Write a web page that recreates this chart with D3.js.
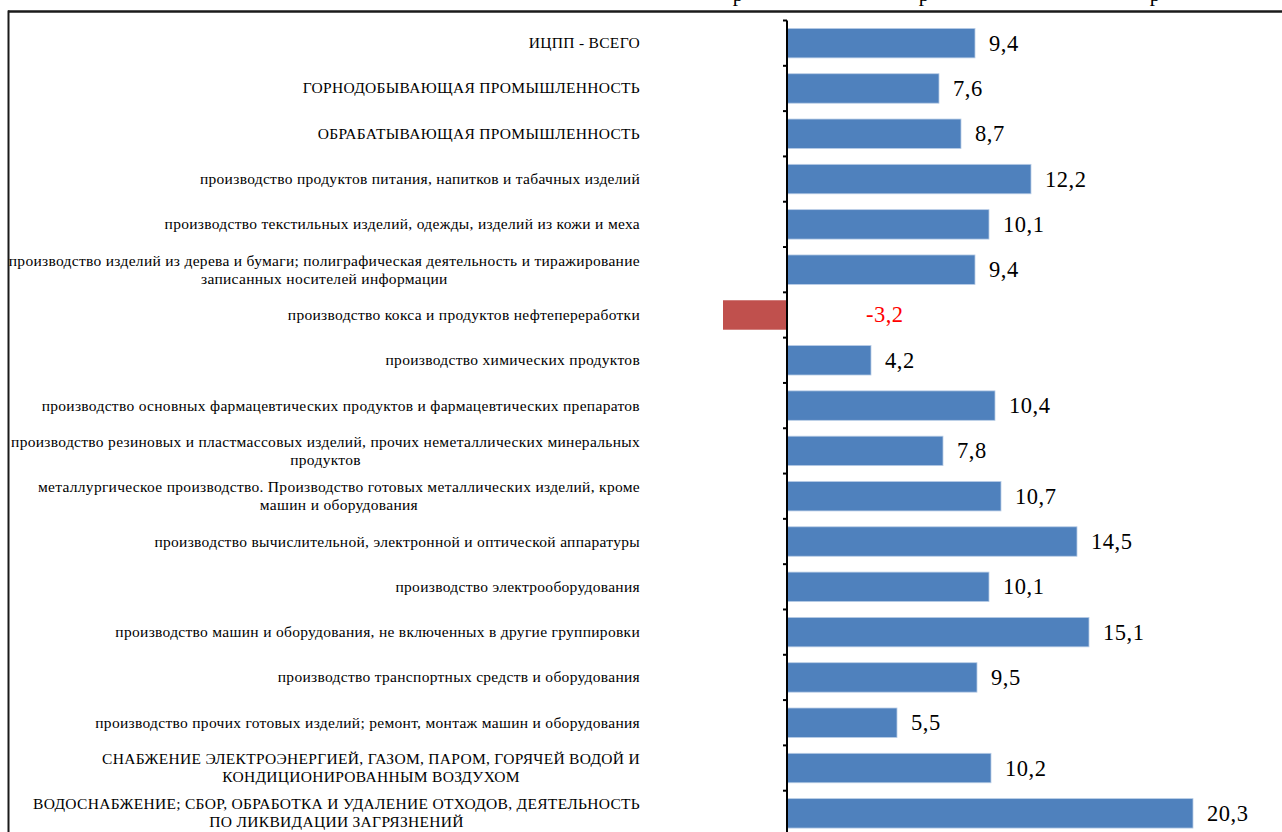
<!DOCTYPE html>
<html><head><meta charset="utf-8">
<script src="https://cdn.jsdelivr.net/npm/d3@7"></script>
<style>html,body{margin:0;padding:0;background:#fff;overflow:hidden}</style>
</head><body>
<svg id="c" width="1282" height="832"></svg>
<script>
const categories = [
  ["ИЦПП - ВСЕГО"],
  ["ГОРНОДОБЫВАЮЩАЯ ПРОМЫШЛЕННОСТЬ"],
  ["ОБРАБАТЫВАЮЩАЯ ПРОМЫШЛЕННОСТЬ"],
  ["производство продуктов питания, напитков и табачных изделий"],
  ["производство текстильных изделий, одежды, изделий из кожи и меха"],
  ["производство изделий из дерева и бумаги; полиграфическая деятельность и тиражирование", "записанных носителей информации"],
  ["производство кокса и продуктов нефтепереработки"],
  ["производство химических продуктов"],
  ["производство основных фармацевтических продуктов и фармацевтических препаратов"],
  ["производство резиновых и пластмассовых изделий, прочих неметаллических минеральных", "продуктов"],
  ["металлургическое производство. Производство готовых металлических изделий, кроме", "машин и оборудования"],
  ["производство вычислительной, электронной и оптической аппаратуры"],
  ["производство электрооборудования"],
  ["производство машин и оборудования, не включенных в другие группировки"],
  ["производство транспортных средств и оборудования"],
  ["производство прочих готовых изделий; ремонт, монтаж машин и оборудования"],
  ["СНАБЖЕНИЕ ЭЛЕКТРОЭНЕРГИЕЙ, ГАЗОМ, ПАРОМ, ГОРЯЧЕЙ ВОДОЙ И", "КОНДИЦИОНИРОВАННЫМ ВОЗДУХОМ"],
  ["ВОДОСНАБЖЕНИЕ; СБОР, ОБРАБОТКА И УДАЛЕНИЕ ОТХОДОВ, ДЕЯТЕЛЬНОСТЬ", "ПО ЛИКВИДАЦИИ ЗАГРЯЗНЕНИЙ"]
];
const values = [9.4, 7.6, 8.7, 12.2, 10.1, 9.4, -3.2, 4.2, 10.4, 7.8, 10.7, 14.5, 10.1, 15.1, 9.5, 5.5, 10.2, 20.3];
const titleFragments = ["р", "р", "р"];

const FONT = "Liberation Serif";
const svg = d3.select("#c");
const idx = d3.range(values.length);

const x = d3.scaleLinear().domain([-4, 24]).range([707, 1267]);
const y = d3.scaleBand().domain(idx).range([20.5, 836]).paddingInner(0.35).paddingOuter(0.175);

// cut-off heading fragments
const fragX = [738, 924, 1155];
svg.selectAll("text.frag").data(titleFragments).join("text")
  .attr("x", (d, i) => fragX[i]).attr("y", 1)
  .attr("font-family", FONT).attr("font-size", 21).attr("text-anchor", "middle")
  .text(d => d);

// frame
svg.append("line").attr("x1", 8).attr("x2", 1282).attr("y1", 11.5).attr("y2", 11.5)
  .attr("stroke", "#1a1a1a").attr("stroke-width", 2.5);
svg.append("line").attr("x1", 8.5).attr("x2", 8.5).attr("y1", 10.5).attr("y2", 832)
  .attr("stroke", "#1a1a1a").attr("stroke-width", 2);

// bars
svg.selectAll("rect.bar").data(idx).join("rect")
  .attr("x", i => x(Math.min(0, values[i])))
  .attr("width", i => Math.abs(x(values[i]) - x(0)))
  .attr("y", i => y(i))
  .attr("height", y.bandwidth())
  .attr("fill", i => values[i] < 0 ? "#C0504D" : "#4F81BD")
  .attr("stroke", i => values[i] < 0 ? "none" : "#b9cde6")
  .attr("stroke-width", 0.8);

// axis with ticks at band boundaries
const x0 = x(0);
const step = y.step();
const bounds = d3.range(values.length + 1).map(k => y(0) - y.paddingOuter() * step + k * step);
svg.append("line").attr("x1", x0).attr("x2", x0).attr("y1", bounds[0]).attr("y2", 832)
  .attr("stroke", "#000").attr("stroke-width", 2);
svg.selectAll("line.tick").data(bounds).join("line")
  .attr("x1", x0 - 4).attr("x2", x0).attr("y1", d => d).attr("y2", d => d)
  .attr("stroke", "#000").attr("stroke-width", 2);

// category labels
const labelRight = 640, lineH = 18;
idx.forEach(i => {
  const lines = categories[i];
  const g = svg.append("g");
  const cy = y(i) + y.bandwidth() / 2;
  const ts = lines.map((ln, k) => g.append("text")
    .attr("font-family", FONT)
    .attr("font-size", 15.5)
    .attr("letter-spacing", 0.3)
    .attr("y", cy + (k - (lines.length - 1) / 2) * lineH + 5)
    .text(ln));
  const w = d3.max(ts, t => t.node().getComputedTextLength());
  ts.forEach(t => t.attr("x", labelRight - w / 2).attr("text-anchor", "middle"));
});

// value labels
const fmt = v => String(v).replace(".", ",");
svg.selectAll("text.val").data(idx).join("text")
  .attr("x", i => values[i] < 0 ? x0 + 79 : x(values[i]) + 14)
  .attr("y", i => y(i) + y.bandwidth() / 2 + 7.5)
  .attr("font-family", FONT)
  .attr("font-size", 22.5)
  .attr("letter-spacing", 0.5)
  .attr("fill", i => values[i] < 0 ? "#ff0000" : "#000")
  .text(i => fmt(values[i]));
</script>
</body></html>
